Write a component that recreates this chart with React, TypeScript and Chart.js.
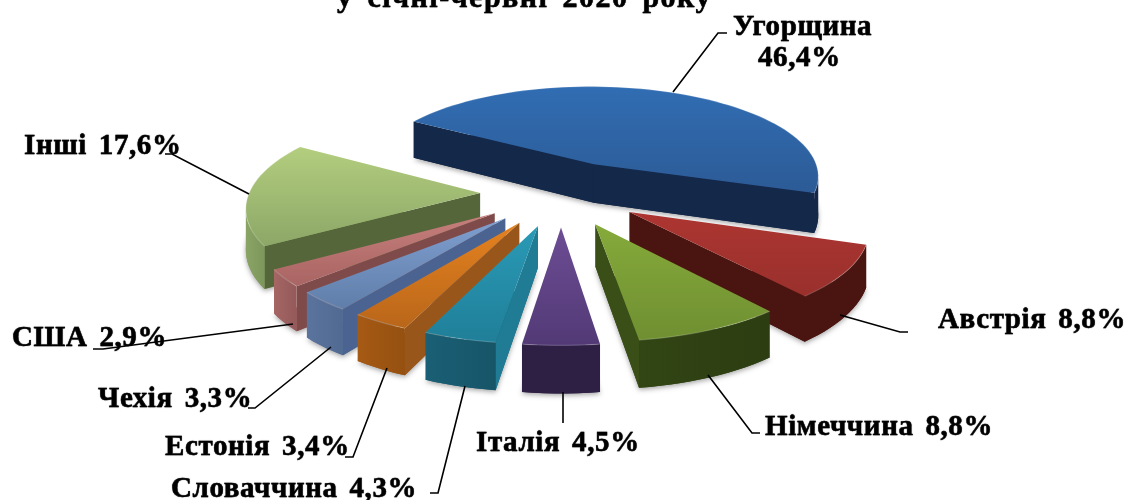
import React, { useEffect, useRef } from "react";
import { Chart, registerables } from "chart.js";

Chart.register(...registerables);

const categories = ["Угорщина", "Австрія", "Німеччина", "Італія", "Словаччина", "Естонія", "Чехія", "США", "Інші"];
const shares = [46.4, 8.8, 8.8, 4.5, 4.3, 3.4, 3.3, 2.9, 17.6];
const explode = [35, 35, 35, 35, 35, 35, 35, 35, 35];
const titleText = "у січні-червні 2020 року";

const topLight = ["#316db3", "#ad3531", "#86aa3b", "#6d4c94", "#2a9ab6", "#e5821f", "#7f9fd0", "#c67f7d", "#b3ce7e"];
const topDark = ["#2c5b96", "#99302c", "#6f8f31", "#523a76", "#207f99", "#b9661a", "#607ea9", "#a96563", "#8ca767"];
const rimWall = ["#14284a", "#4a1410", "#324514", "#2e2045", "#1a5f75", "#a65a14", "#5a749e", "#a56664", "#8aa465"];
const rimWallDark = ["#14284a", "#4a1410", "#2c3d11", "#2e2045", "#175568", "#955010", "#516a92", "#94595a", "#7d965c"];
const sideWall = ["#14284a", "#4a1410", "#3a4f17", "#2e2045", "#1f7c94", "#99561a", "#4a6390", "#7f4a4a", "#55663a"];

const labelLines = [
  { text: "Угорщина", x: 733, y: 35 },
  { text: "46,4%", x: 758, y: 66 },
  { text: "Австрія 8,8%", x: 938, y: 328 },
  { text: "Німеччина 8,8%", x: 765, y: 435 },
  { text: "Італія 4,5%", x: 476, y: 451 },
  { text: "Словаччина 4,3%", x: 171, y: 497 },
  { text: "Естонія 3,4%", x: 165, y: 455 },
  { text: "Чехія 3,3%", x: 98, y: 407 },
  { text: "США 2,9%", x: 12, y: 346 },
  { text: "Інші 17,6%", x: 24, y: 154 },
];

const leaders = [
  [[673, 92], [718, 33], [727, 33]],
  [[840, 315], [900, 332], [908, 332]],
  [[708, 375], [752, 433], [760, 433]],
  [[563, 392], [563, 423]],
  [[465, 386], [438, 493], [430, 493]],
  [[387, 368], [353, 457], [345, 457]],
  [[331, 347], [255, 408], [248, 408]],
  [[293, 324], [103, 349], [93, 349]],
  [[249, 194], [172, 154], [165, 154]],
];

const PERSPECTIVE = 0.124;
const TILT = 0.407;
const DEPTH = 40;
const FONT = 'bold 29px "Liberation Serif", "Times New Roman", serif';
const TITLE_FONT = 'bold 30px "Liberation Serif", "Times New Roman", serif';

const pie3d = {
  id: "pie3d",
  beforeDatasetsDraw(chart: any) {
    const ctx = chart.ctx as CanvasRenderingContext2D;
    const arcs = chart.getDatasetMeta(0).data as any[];
    const project = (arc: any, x: number, y: number, z: number) => {
      const s = 1 / (1 - PERSPECTIVE * y);
      const R = arc.outerRadius;
      return { x: arc.x + x * R * s, y: arc.y + y * R * TILT * s + z * s };
    };
    const order = arcs
      .map((arc, i) => ({ arc, i, key: Math.sin((arc.startAngle + arc.endAngle) / 2) }))
      .sort((a, b) => a.key - b.key);

    ctx.save();
    for (const { arc, i } of order) {
      const mid = (arc.startAngle + arc.endAngle) / 2;
      const off = (arc.options.offset || 0) / 100;
      const ox = Math.cos(mid) * off;
      const oy = Math.sin(mid) * off;
      const steps = Math.max(2, Math.round((arc.endAngle - arc.startAngle) / 0.04));
      const plane: { x: number; y: number }[] = [{ x: ox, y: oy }];
      for (let k = 0; k <= steps; k++) {
        const t = arc.startAngle + ((arc.endAngle - arc.startAngle) * k) / steps;
        plane.push({ x: ox + Math.cos(t), y: oy + Math.sin(t) });
      }
      const top = plane.map((p) => project(arc, p.x, p.y, 0));
      const bottom = plane.map((p) => project(arc, p.x, p.y, DEPTH));
      const n = plane.length;

      // soft ground shadow
      ctx.save();
      ctx.shadowColor = "rgba(0,0,0,0.35)";
      ctx.shadowBlur = 5;
      ctx.shadowOffsetY = 2;
      ctx.fillStyle = rimWall[i];
      ctx.beginPath();
      bottom.forEach((p, k) => (k ? ctx.lineTo(p.x, p.y) : ctx.moveTo(p.x, p.y)));
      ctx.closePath();
      ctx.fill();
      ctx.restore();

      // radial walls facing the viewer
      for (const [a, b] of [[0, 1], [n - 1, 0]]) {
        if (top[b].x >= top[a].x) continue;
        ctx.fillStyle = sideWall[i];
        ctx.beginPath();
        ctx.moveTo(top[a].x, top[a].y);
        ctx.lineTo(top[b].x, top[b].y);
        ctx.lineTo(bottom[b].x, bottom[b].y);
        ctx.lineTo(bottom[a].x, bottom[a].y);
        ctx.closePath();
        ctx.fill();
      }

      // outer rim wall, merged into one shape
      let first = -1;
      let last = -1;
      for (let k = 1; k < n - 1; k++) {
        if (top[k + 1].x < top[k].x) {
          if (first < 0) first = k;
          last = k + 1;
        }
      }
      if (first > 0) {
        const g = ctx.createLinearGradient(top[last].x, 0, top[first].x, 0);
        g.addColorStop(0, rimWall[i]);
        g.addColorStop(1, rimWallDark[i]);
        ctx.fillStyle = g;
        ctx.beginPath();
        for (let k = first; k <= last; k++) ctx.lineTo(top[k].x, top[k].y);
        for (let k = last; k >= first; k--) ctx.lineTo(bottom[k].x, bottom[k].y);
        ctx.closePath();
        ctx.fill();
      }

      // top face
      const ys = top.map((p) => p.y);
      const g = ctx.createLinearGradient(0, Math.min(...ys), 0, Math.max(...ys));
      g.addColorStop(0, topLight[i]);
      g.addColorStop(1, topDark[i]);
      ctx.fillStyle = g;
      ctx.beginPath();
      top.forEach((p, k) => (k ? ctx.lineTo(p.x, p.y) : ctx.moveTo(p.x, p.y)));
      ctx.closePath();
      ctx.fill();

      // bevel highlight along the rim
      ctx.strokeStyle = "rgba(255,255,255,0.18)";
      ctx.lineWidth = 1.2;
      ctx.beginPath();
      for (let k = 1; k < n; k++) ctx.lineTo(top[k].x, top[k].y);
      ctx.stroke();
    }
    ctx.restore();
    return false;
  },
  afterDraw(chart: any) {
    const ctx = chart.ctx as any;
    ctx.save();
    ctx.strokeStyle = "#000";
    ctx.lineWidth = 1.6;
    for (const pts of leaders) {
      ctx.beginPath();
      pts.forEach((p, k) => (k ? ctx.lineTo(p[0], p[1]) : ctx.moveTo(p[0], p[1])));
      ctx.stroke();
    }
    ctx.fillStyle = "#000";
    ctx.strokeStyle = "#000";
    ctx.lineWidth = 0.4;
    ctx.shadowColor = "rgba(0,0,0,0.5)";
    ctx.shadowBlur = 1;
    ctx.textAlign = "left";
    ctx.textBaseline = "alphabetic";
    ctx.font = FONT;
    ctx.letterSpacing = "0.6px";
    ctx.wordSpacing = "4px";
    for (const l of labelLines) {
      ctx.fillText(l.text, l.x, l.y);
      ctx.strokeText(l.text, l.x, l.y);
    }
    ctx.font = TITLE_FONT;
    ctx.letterSpacing = "1.5px";
    ctx.wordSpacing = "5px";
    ctx.fillText(titleText, 337, 7);
    ctx.strokeText(titleText, 337, 7);
    ctx.restore();
  },
};

export default function App() {
  const ref = useRef<HTMLCanvasElement>(null);
  useEffect(() => {
    document.body.style.margin = "0";
    const chart = new Chart(ref.current as HTMLCanvasElement, {
      type: "pie",
      data: {
        labels: categories,
        datasets: [{ data: shares, offset: explode, backgroundColor: topLight, borderWidth: 0 }],
      },
      options: {
        responsive: false,
        animation: false,
        rotation: -58.5,
        radius: 231,
        layout: { padding: { right: 3, bottom: 114 } },
        plugins: { legend: { display: false }, tooltip: { enabled: false } },
      },
      plugins: [pie3d],
    } as any);
    return () => chart.destroy();
  }, []);
  return (
    <div style={{ width: 1125, height: 500, background: "#fff" }}>
      <canvas ref={ref} width={1125} height={500} style={{ display: "block" }} />
    </div>
  );
}
